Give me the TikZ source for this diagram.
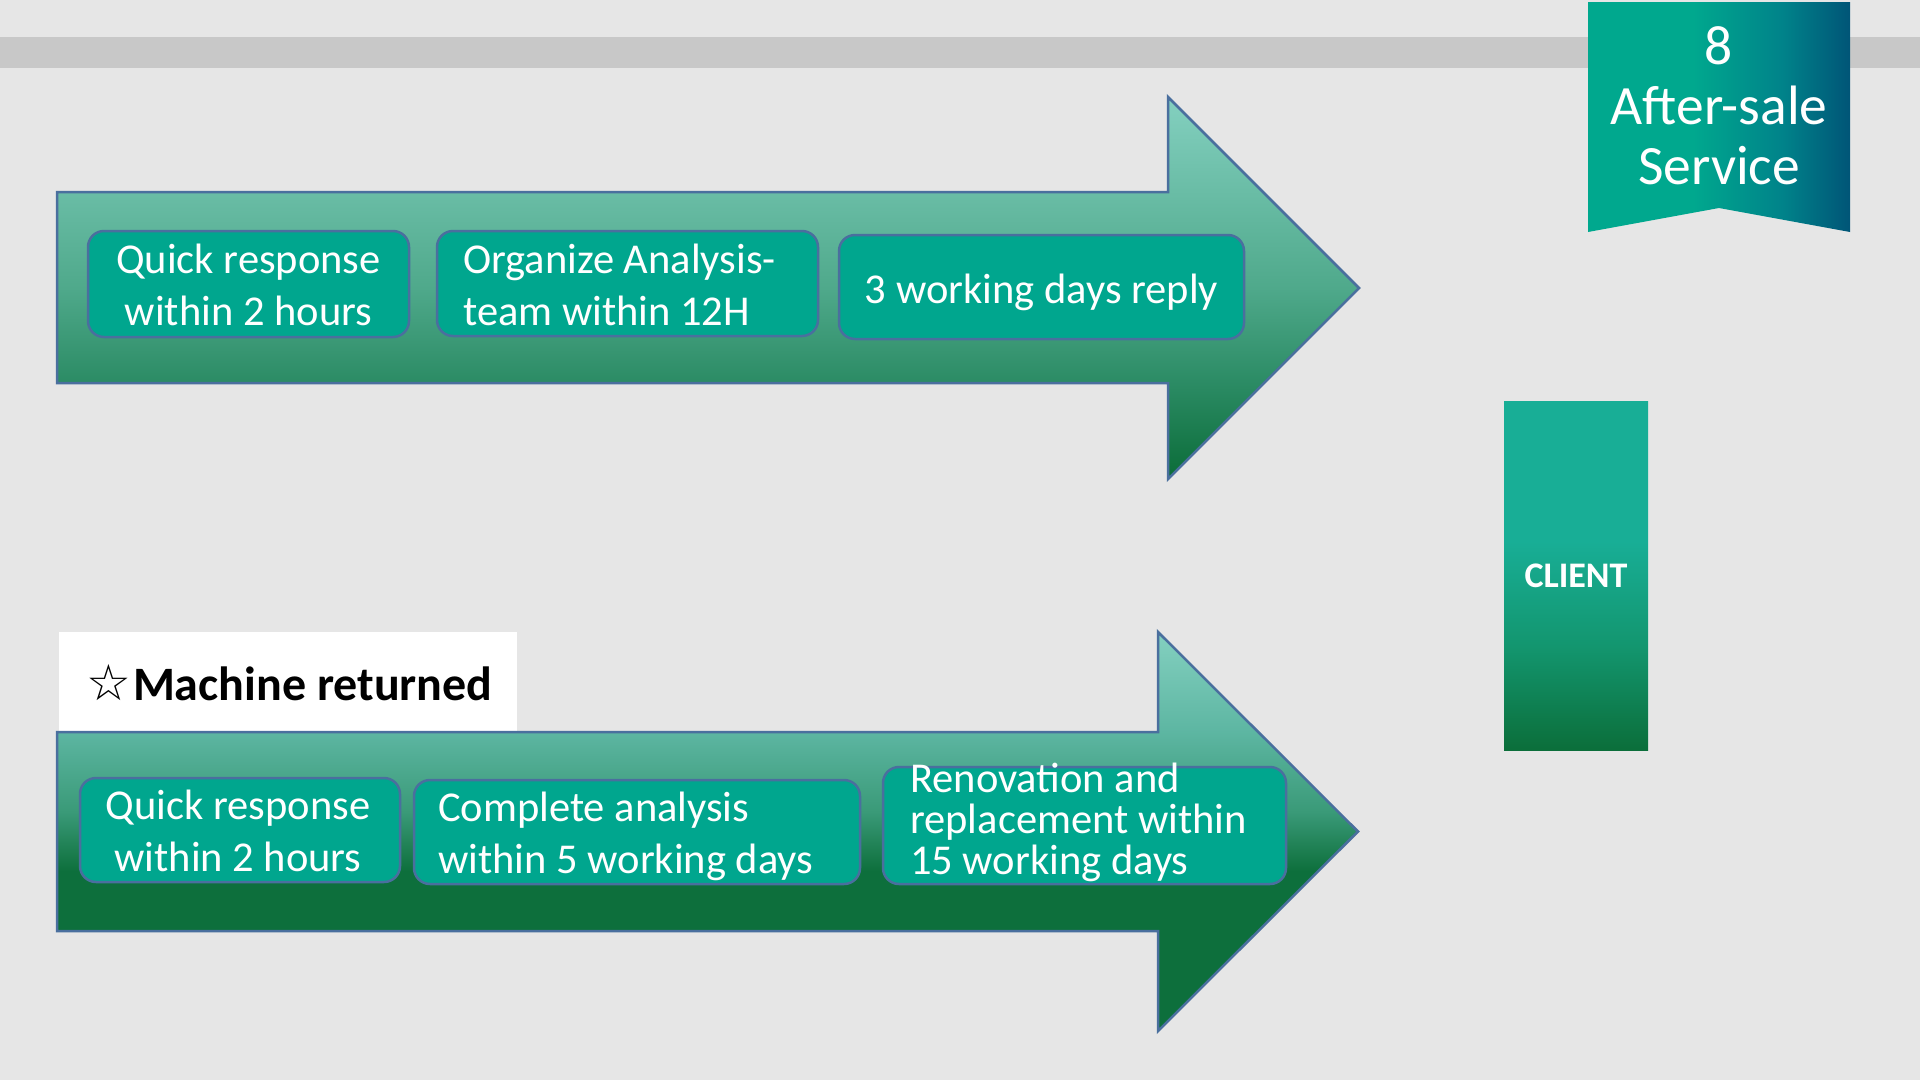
\documentclass[tikz,border=0pt]{standalone}
\usepackage{fontspec}
\setmainfont{Carlito}
\newfontfamily\symfont{DejaVu Sans}
\definecolor{bg}{HTML}{E6E6E6}
\definecolor{barc}{HTML}{C8C8C8}
\definecolor{boxfill}{HTML}{00A68E}
\definecolor{edge}{HTML}{4A6F9E}
\definecolor{aLight}{HTML}{84D0C0}
\definecolor{aMid}{HTML}{4FA98B}
\definecolor{aLow}{HTML}{2B8B64}
\definecolor{aDark}{HTML}{0B6C38}
\definecolor{bMid}{HTML}{5DB6A2}
\definecolor{bLow}{HTML}{3A9A78}
\definecolor{bDark}{HTML}{0D6F3C}
\definecolor{cTop}{HTML}{18AE96}
\definecolor{cMid}{HTML}{13966F}
\definecolor{cBot}{HTML}{0B6E3A}
\definecolor{tealL}{HTML}{00A88E}
\definecolor{tealM}{HTML}{00838A}
\definecolor{tealR}{HTML}{005577}
\pgfdeclareverticalshading{topshade}{100bp}{color(0bp)=(aDark); color(25bp)=(aDark); color(37.5bp)=(aLow); color(50bp)=(aMid); color(75bp)=(aLight); color(100bp)=(aLight)}
\pgfdeclareverticalshading{botshade}{100bp}{color(0bp)=(bDark); color(45bp)=(bDark); color(52.5bp)=(bLow); color(62.5bp)=(bMid); color(75bp)=(aLight); color(100bp)=(aLight)}
\pgfdeclareverticalshading{clientshade}{100bp}{color(0bp)=(cBot); color(25bp)=(cBot); color(40bp)=(cMid); color(55bp)=(cTop); color(100bp)=(cTop)}
\pgfdeclarehorizontalshading{bannershade}{100bp}{color(0bp)=(tealL); color(45bp)=(tealL); color(62bp)=(tealM); color(75bp)=(tealR); color(100bp)=(tealR)}
\begin{document}
\begin{tikzpicture}[x=1pt,y=-1pt,
  box/.style={draw=edge, line width=2.5pt, fill=boxfill, rounded corners=16pt, inner sep=0pt},
  boxtext/.style={text=white, inner sep=0pt, font=\fontsize{42.5}{52}\selectfont},
  arrowline/.style={draw=edge, line width=2.5pt, line join=miter}]
\useasboundingbox (0,0) rectangle (1920,1080);
\fill[bg] (0,0) rectangle (1920,1080);
\fill[barc] (0,37) rectangle (1920,68);
% banner
\shade[shading=bannershade] (1588,2) -- (1850,2) -- (1850,232) -- (1719,208) -- (1588,232) -- cycle;
\node[text=white, inner sep=0pt, anchor=north, align=center, font=\fontsize{55.5}{60}\selectfont] (banner) at (1719,19) {\rule{0pt}{45pt}8\\After-sale\\Service};
% top arrow
\shadedraw[shading=topshade, arrowline] (57,192) -- (1168,192) -- (1168,97) -- (1359,288) -- (1168,479) -- (1168,383) -- (57,383) -- cycle;
\node[box, minimum width=321pt, minimum height=106pt] (tb1) at (248.5,284) {};
\node[boxtext, anchor=north, align=center] (tt1) at (248.5,240) {\rule{0pt}{33pt}Quick response\\within 2 hours};
\node[box, minimum width=381pt, minimum height=105pt] (tb2) at (627.5,283.5) {};
\node[boxtext, anchor=north west, align=left] (tt2) at (463,240) {\rule{0pt}{33pt}Organize Analysis-\\team within 12H};
\node[box, minimum width=405pt, minimum height=104pt] (tb3) at (1041.5,287) {};
\node[boxtext, anchor=base] (tt3) at (1041.5,303) {3 working days reply};
% machine returned label
\node[fill=white, minimum width=458pt, minimum height=99pt, inner sep=0pt] (mrbox) at (288,681.5) {};
\node[inner sep=0pt, anchor=base west, font=\bfseries\fontsize{48}{50}\selectfont] (mr) at (86,700) {{\symfont\mdseries\fontsize{50}{50}\selectfont ☆}\kern2pt Machine returned};
% bottom arrow
\shadedraw[shading=botshade, arrowline] (57,732) -- (1158,732) -- (1158,632) -- (1358,831.5) -- (1158,1031) -- (1158,931) -- (57,931) -- cycle;
\node[box, minimum width=320pt, minimum height=104pt] (bb1) at (240,830) {};
\node[boxtext, anchor=north, align=center] (bt1) at (238,786) {\rule{0pt}{33pt}Quick response\\within 2 hours};
\node[box, minimum width=446pt, minimum height=104pt] (bb2) at (637,832) {};
\node[boxtext, anchor=north west, align=left] (bt2) at (438,788) {\rule{0pt}{33pt}Complete analysis\\within 5 working days};
\node[box, minimum width=403pt, minimum height=117pt] (bb3) at (1084.5,825.5) {};
\node[boxtext, anchor=north west, align=left, font=\fontsize{42.5}{41}\selectfont] (bt3) at (910,759) {\rule{0pt}{33pt}Renovation and\\replacement within\\15 working days};
% client
\node[shade, shading=clientshade, minimum width=144pt, minimum height=349pt, inner sep=0pt, text=white, font=\bfseries\fontsize{36}{40}\selectfont] (client) at (1576,576) {CLIENT};
\end{tikzpicture}
\end{document}
